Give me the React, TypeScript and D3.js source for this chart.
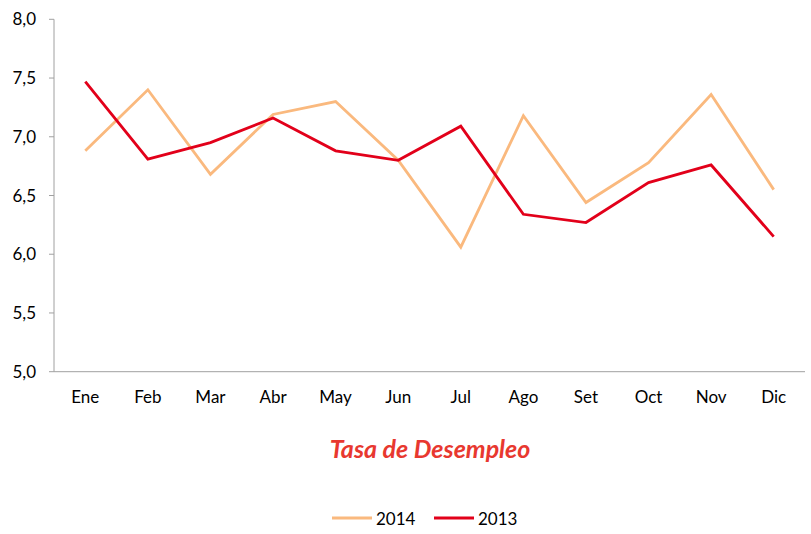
import React from 'react';
import * as d3 from 'd3';

const months = ['Ene', 'Feb', 'Mar', 'Abr', 'May', 'Jun', 'Jul', 'Ago', 'Set', 'Oct', 'Nov', 'Dic'];
const values2014 = [6.88, 7.40, 6.68, 7.19, 7.30, 6.80, 6.06, 7.18, 6.44, 6.78, 7.36, 6.55];
const values2013 = [7.47, 6.81, 6.95, 7.16, 6.88, 6.80, 7.09, 6.34, 6.27, 6.61, 6.76, 6.15];
const yTicks = [5.0, 5.5, 6.0, 6.5, 7.0, 7.5, 8.0];

const series = [
  { name: '2014', values: values2014, color: '#FAB97E' },
  { name: '2013', values: values2013, color: '#E2001A' },
];

const W = 811;
const H = 534;
const font = 'Lato, "Liberation Sans", sans-serif';

const App: React.FC = () => {
  const x = d3.scaleBand<string>().domain(months).range([54, 805]);
  const y = d3.scaleLinear().domain([5, 8]).range([371.7, 19.3]);
  const fmt = (v: number) => v.toFixed(1).replace('.', ',');

  const line = d3.line<number>()
    .x((_, i) => (x(months[i]) as number) + x.bandwidth() / 2)
    .y(d => y(d));

  return (
    <svg width={W} height={H} style={{ position: 'absolute', left: 0, top: 0 }}>
      <rect width={W} height={H} fill="#fff" />
      {/* y axis */}
      <line x1={54} x2={54} y1={y(8)} y2={y(5)} stroke="#a0a0a0" strokeWidth={1} />
      {yTicks.map(t => (
        <g key={t}>
          <line x1={49} x2={54} y1={y(t)} y2={y(t)} stroke="#a0a0a0" />
          <text x={36} y={y(t)} dy="0.36em" textAnchor="end" fontFamily={font} fontSize={17} fill="#000">
            {fmt(t)}
          </text>
        </g>
      ))}
      {/* x axis */}
      <line x1={54} x2={805} y1={y(5)} y2={y(5)} stroke="#a0a0a0" strokeWidth={1} />
      {months.map(m => (
        <text key={m} x={(x(m) as number) + x.bandwidth() / 2} y={403} textAnchor="middle"
          fontFamily={font} fontSize={17} fill="#000">
          {m}
        </text>
      ))}
      {series.map(s => (
        <path key={s.name} d={line(s.values) || ''} fill="none" stroke={s.color}
          strokeWidth={2.8} strokeLinejoin="miter" />
      ))}
      <text x={430} y={458} textAnchor="middle" fontFamily={font}
        fontSize={25} fontStyle="italic" fontWeight="bold" fill="#E8382F">
        Tasa de Desempleo
      </text>
      {/* legend */}
      {series.map((s, i) => (
        <g key={s.name} transform={`translate(${332 + i * 102},0)`}>
          <line x1={0} x2={40} y1={518} y2={518} stroke={s.color} strokeWidth={3} />
          <text x={44} y={525} fontFamily={font} fontSize={17} fill="#000">{s.name}</text>
        </g>
      ))}
    </svg>
  );
};

export default App;
